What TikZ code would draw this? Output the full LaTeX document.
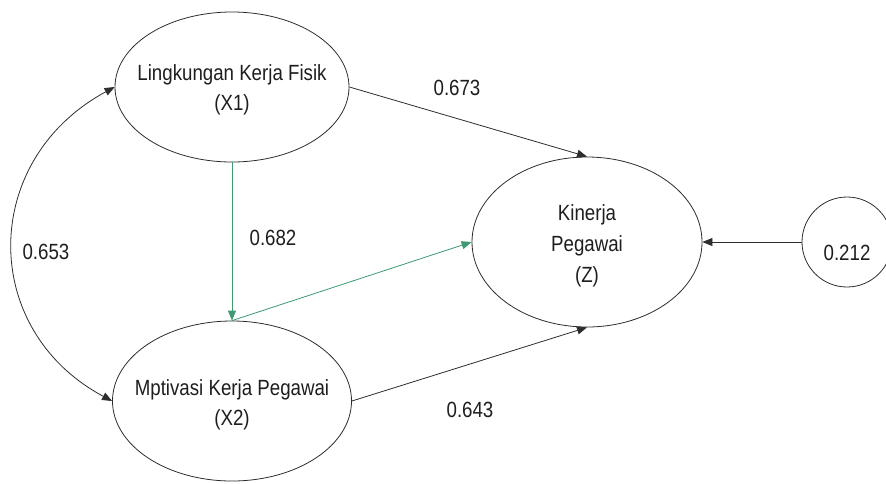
\documentclass[tikz,border=0pt]{standalone}
\usepackage{fontspec}
\setmainfont{Liberation Sans}[FakeStretch=0.85]
\usetikzlibrary{shapes.geometric,arrows.meta}
\definecolor{edgegray}{RGB}{45,45,45}
\definecolor{textgray}{RGB}{30,30,30}
\definecolor{pathgreen}{RGB}{62,152,112}
\begin{document}
\begin{tikzpicture}[x=1pt,y=-1pt,
  every node/.style={text=textgray, font=\fontsize{22}{30}\selectfont},
  latent/.style={ellipse, draw=edgegray, line width=0.8pt, inner sep=0pt},
  errvar/.style={circle, draw=edgegray, line width=0.8pt, minimum size=90pt, inner sep=0pt},
  path/.style={draw=edgegray, line width=0.8pt, -{Triangle[length=10pt,width=8pt]}},
  greenpath/.style={draw=pathgreen, line width=0.8pt, -{Triangle[length=10pt,width=8pt]}},
  covpath/.style={draw=edgegray, line width=0.8pt, {Triangle[length=10pt,width=8pt]}-{Triangle[length=10pt,width=8pt]}},
  coef/.style={inner sep=0pt}
]
\useasboundingbox (0,0) rectangle (886,483);

% latent variables
\node[latent, minimum width=234pt, minimum height=150pt,
      label={[name=x1txt, align=center, yshift=-3pt]center:Lingkungan Kerja Fisik\\(X1)}]
      (x1) at (232,87) {};
\node[latent, minimum width=239pt, minimum height=160pt,
      label={[name=x2txt, align=center, yshift=-4pt]center:Mptivasi Kerja Pegawai\\(X2)}]
      (x2) at (232,401) {};
\node[latent, minimum width=230pt, minimum height=170pt,
      label={[name=ztxt, align=center, yshift=-4pt, font=\fontsize{22}{31}\selectfont]center:Kinerja\\Pegawai\\(Z)}]
      (z) at (587,242) {};

% residual
\node[errvar, label={[name=etxt, yshift=-11pt]center:0.212}] (e) at (847,242) {};

% structural paths
\draw[path] (x1.east) -- (z.north);
\draw[path] (x2.east) -- (z.south);
\draw[path] (e.west) -- (z.east);
\draw[greenpath] (x1.south) -- (x2.north);
\draw[greenpath] (x2.north) -- (z.west);

% correlation between exogenous variables
\draw[covpath] (x1.west) .. controls +(-135,73) and +(-133,-71) .. (x2.west);

% coefficients
\node[coef] (c673) at (457,88) {0.673};
\node[coef] (c682) at (273,238) {0.682};
\node[coef] (c653) at (46,252) {0.653};
\node[coef] (c643) at (470,410) {0.643};
\end{tikzpicture}
\end{document}
